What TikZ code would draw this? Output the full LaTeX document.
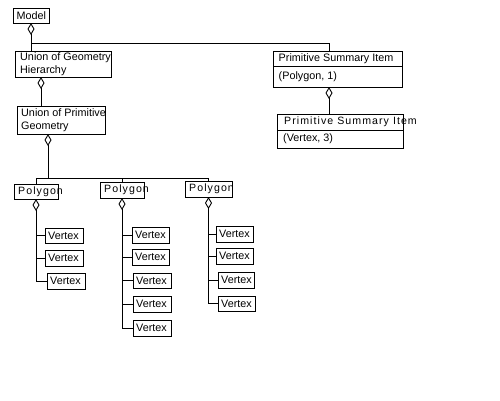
\documentclass[tikz,border=0pt]{standalone}
\usepackage{fontspec}
\setmainfont{Liberation Sans}
\newfontfamily\spacedfont[LetterSpace=10]{Liberation Sans}
\usetikzlibrary{arrows.meta}
\begin{document}
\begin{tikzpicture}[x=1pt,y=-1pt,
  box/.style={draw, line width=0.9pt, inner sep=0pt, outer sep=0pt, anchor=north west},
  txt/.style={anchor=west, inner sep=0pt, font=\fontsize{10.8}{12.5}\selectfont, align=left},
  stxt/.style={anchor=west, inner sep=0pt, font=\spacedfont\fontsize{10.6}{12}\selectfont, align=left},
  conn/.style={line width=0.9pt},
  agg/.style={conn, {Diamond[open,length=12pt,width=7pt]}-}]
\fill[white] (0,0) rectangle (500,400);
\useasboundingbox (0,0) rectangle (500,400);

% boxes
\node[box, minimum width=36pt, minimum height=15pt] (model) at (13,8) {};
\node[box, minimum width=96pt, minimum height=26pt] (ugh) at (15,51) {};
\node[box, minimum width=88pt, minimum height=28pt] (upg) at (17,106) {};
\node[box, minimum width=129pt, minimum height=36pt] (psi1) at (273,51) {};
\node[box, minimum width=126pt, minimum height=34pt] (psi2) at (277,114) {};
\node[box, minimum width=44pt, minimum height=15pt] (p1) at (14,184) {};
\node[box, minimum width=44pt, minimum height=16pt] (p2) at (100,182) {};
\node[box, minimum width=47pt, minimum height=16pt] (p3) at (185,181) {};
\node[box, minimum width=38pt, minimum height=15pt] (v11) at (45,228) {};
\node[box, minimum width=38pt, minimum height=16pt] (v12) at (45,250) {};
\node[box, minimum width=38pt, minimum height=16pt] (v13) at (47,273) {};
\node[box, minimum width=37pt, minimum height=16pt] (v21) at (132,227) {};
\node[box, minimum width=37pt, minimum height=16pt] (v22) at (132,249) {};
\node[box, minimum width=38pt, minimum height=15pt] (v23) at (133,273) {};
\node[box, minimum width=38pt, minimum height=16pt] (v24) at (133,296) {};
\node[box, minimum width=38pt, minimum height=16pt] (v25) at (133,320) {};
\node[box, minimum width=37pt, minimum height=16pt] (v31) at (216,226) {};
\node[box, minimum width=37pt, minimum height=16pt] (v32) at (216,248) {};
\node[box, minimum width=36pt, minimum height=16pt] (v33) at (218,272) {};
\node[box, minimum width=37pt, minimum height=15pt] (v34) at (218,296) {};

% dividers
\draw[conn] (psi1.west |- 0,66) -- (psi1.east |- 0,66);
\draw[conn] (psi2.west |- 0,130) -- (psi2.east |- 0,130);

% texts
\node[txt] (model-t) at ([xshift=3.5pt]model.west) {Model};
\node[txt] (ugh-t) at ([xshift=5pt]ugh.west) {Union of Geometry\\Hierarchy};
\node[txt] (upg-t) at ([xshift=4pt]upg.west) {Union of Primitive\\Geometry};
\node[txt] (psi1-a) at (278.5,59) {Primitive Summary Item};
\node[txt] (psi1-b) at (278.5,77) {(Polygon, 1)};
\node[stxt] (psi2-a) at (284,122) {Primitive Summary Item};
\node[txt] (psi2-b) at (283,139) {(Vertex, 3)};
\foreach \p in {p1,p2,p3}
  \node[stxt] (\p-t) at ([xshift=4pt]\p.west) {Polygon};
\foreach \v in {v11,v12,v13,v21,v22,v23,v24,v25,v31,v32,v33,v34}
  \node[txt] (\v-t) at ([xshift=3pt]\v.west) {Vertex};

% connector coordinates
\coordinate (psi1top) at (329,51);
\coordinate (bus) at (48,178);
\coordinate (ugh-d) at ([xshift=26pt]ugh.south west);
\coordinate (upg-d) at ([xshift=31pt]upg.south west);

% connectors
\draw[agg] (model.south) -- (model.south |- ugh.north);
\draw[conn] (model.south |- 0,43) -| (psi1top);
\draw[agg] (ugh-d) -- (ugh-d |- upg.north);
\draw[agg] (upg-d) -- (upg-d |- bus);
\draw[conn] (p1.north) -- (p1.north |- bus) -- (p3.north |- bus) -- (p3.north);
\draw[conn] (p2.north) -- (p2.north |- bus);
\draw[agg] (psi1.south -| psi1top) -- (psi1top |- psi2.north);

\draw[agg] (p1.south) -- (p1.south |- v13.west) -- (v13.west);
\foreach \v in {v11,v12} \draw[conn] (p1.south |- \v.west) -- (\v.west);
\draw[agg] (p2.south) -- (p2.south |- v25.west) -- (v25.west);
\foreach \v in {v21,v22,v23,v24} \draw[conn] (p2.south |- \v.west) -- (\v.west);
\draw[agg] (p3.south) -- (p3.south |- v34.west) -- (v34.west);
\foreach \v in {v31,v32,v33} \draw[conn] (p3.south |- \v.west) -- (\v.west);
\end{tikzpicture}
\end{document}
